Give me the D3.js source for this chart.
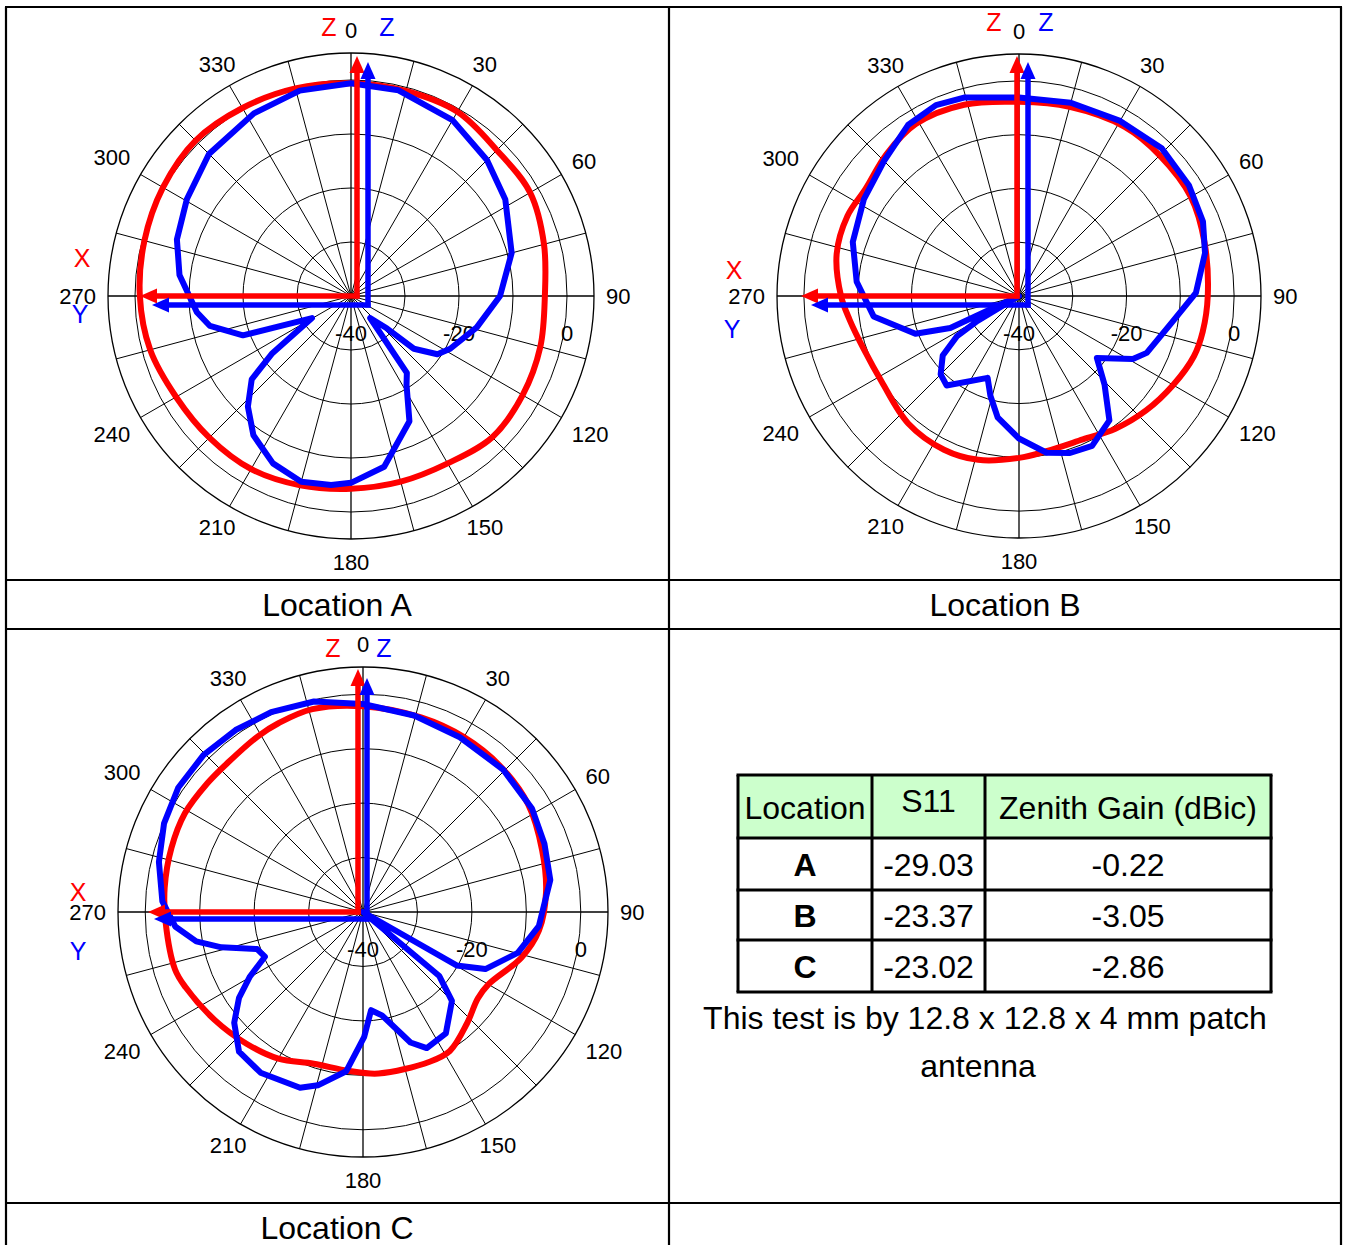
<!DOCTYPE html>
<html><head><meta charset="utf-8">
<script src="https://cdn.jsdelivr.net/npm/d3@7"></script>
<style>
body{margin:0;background:#fff}
svg{display:block}
text{font-family:"Liberation Sans",Arial,sans-serif}
</style>
</head><body>
<svg id="c" width="1346" height="1245"></svg>
<script>
// ---------------- DATA ----------------
const angleTicks = [0,30,60,90,120,150,180,210,240,270,300,330];
const ringLevels = [-30,-20,-10,0,5];
const radialLabels = [-40,-20,0];
const dbDomain = [-40,5];

// Location A
const angA_red = [0,15,30,45,60,75,90,105,120,135,150,165,180,195,210,225,240,255,270,285,300,315,330,345];
const dbA_red  = [-0.6,-0.7,-0.6,-1.8,-1.7,-3.0,-4.1,-3.7,-3.3,-3.0,-4.2,-4.4,-4.3,-3.7,-3.0,-2.9,-2.6,-1.5,-0.9,-0.4,0.2,0.7,0.2,-0.2];
const angA_blue = [0,13,30,45,58,75,90,104,118,124,130,132,139,144,148,155,169,180,186,195,205,215,223,230,234,240.5,250,258,264,277,288,300.6,315,332,346];
const dbA_blue  = [-0.6,-0.9,-2.4,-4.4,-6.3,-9.2,-12.4,-16,-19.2,-20.7,-24.8,-31,-34.6,-22.4,-20.6,-14.4,-7.8,-5.4,-4.8,-4.4,-5.8,-8.5,-12,-16,-22,-31.7,-18.7,-13.3,-11.3,-8,-6.1,-4.7,-2.8,-1.7,-0.8];

// Location B
const angB_red = [0,15,32,45,60,74,90,101,109,120,132,144,156,170,180,194,206,221,238,251,262,270,283,295,305,317,329,344];
const dbB_red  = [-3.9,-3.6,-2.9,-3.0,-3.1,-4.1,-4.9,-5.2,-5.6,-6.9,-8.2,-9.5,-10.8,-10.7,-9.9,-8.6,-8.2,-8.6,-9.9,-9.5,-8.2,-6.9,-5.2,-4.8,-5.2,-3.9,-2.7,-3.0];
const angB_blue = [0,15,30,44,57,68,77,89,100,114,119,128.5,136,144,154,162,170,180,190,196,201,219,225,232,237,239,242,245,250,262,275,288,302,315,327,336.5,344.5];
const dbB_blue  = [-3.1,-2.8,-2.4,-1.8,-2.3,-3.1,-4.5,-7.1,-11.2,-14,-15.8,-21.5,-17.1,-11.4,-9.0,-9.3,-10.4,-13.5,-17.1,-20.7,-23.7,-18.6,-19.4,-22,-26.2,-31,-40,-25.9,-19.5,-12.7,-9.7,-7.5,-6,-4.5,-2.1,-1.3,-1.7];

// Location C
const angC_red = [0,16.6,30,43,57,71,84,96,106,120,127,137,148,156,174.5,185,198,210,221.5,234,247,253,267,277,288.5,299,309.5,318,329,336,346];
const dbC_red  = [-2.2,-2.7,-2.9,-3.2,-3.8,-5.2,-6.2,-7.5,-9.7,-13.4,-13.6,-12,-9.9,-9.9,-10.2,-10.7,-10.7,-8.9,-7.7,-6.3,-4.6,-3.9,-3.7,-3.3,-2.9,-2.6,-2.9,-3.0,-2.4,-2.0,-1.6];
const angC_blue = [0,14.6,29,44.5,58.5,69.4,80.3,94.6,104.8,115,119.7,124,130,135,145.7,154.9,160,169.6,175.3,179.5,186,194.6,199.7,212.5,221.6,229.3,235.3,240.3,245.5,250.7,256,260,265.6,273,283.8,294,304,314.5,325,335.3,346.9];
const dbC_blue  = [-1.8,-2.7,-3.3,-3.3,-3.6,-4.4,-5.1,-7.6,-10.6,-15.2,-20.2,-40,-21.7,-16.9,-13,-12.4,-14.5,-20.7,-21.9,-17,-10.6,-7.1,-5.7,-5.0,-5.7,-8.8,-12.3,-16.1,-20.2,-19.4,-13.2,-8.9,-5.4,-3.1,-1.4,0,0.9,1.1,0.8,0.4,-0.3];

// Table
const tableHeader = ["Location","S11","Zenith Gain (dBic)"];
const locations = ["A","B","C"];
const s11Values = ["-29.03","-23.37","-23.02"];
const zenithGain = ["-0.22","-3.05","-2.86"];
const captions = ["Location A","Location B","Location C"];
const noteLines = ["This test is by 12.8 x 12.8 x 4 mm patch","antenna"];

// ---------------- DRAW ----------------
const svg = d3.select("#c");
svg.append("rect").attr("width",1346).attr("height",1245).attr("fill","#fff");

const RED="#ff0000", BLUE="#0000ff";
const rad = d => d*Math.PI/180;
const FS = 32;

function arrow(g, x1,y1,x2,y2,color){
  const ang = Math.atan2(y2-y1,x2-x1);
  const hl=17, hw=7.5;
  const bx = x2 - hl*Math.cos(ang), by = y2 - hl*Math.sin(ang);
  g.append("line").attr("x1",x1).attr("y1",y1).attr("x2",bx).attr("y2",by)
    .attr("stroke",color).attr("stroke-width",5.5);
  const px = -Math.sin(ang), py = Math.cos(ang);
  g.append("path").attr("d",`M${x2},${y2}L${bx+px*hw},${by+py*hw}L${bx-px*hw},${by-py*hw}Z`)
    .attr("fill",color);
}

function polar(cfg){
  const g = svg.append("g").attr("transform",`translate(${cfg.cx},${cfg.cy})`);
  const r = d3.scaleLinear().domain(dbDomain).range([0,cfg.R]);
  const R = r(dbDomain[1]);
  // rings
  g.selectAll("circle.ring").data(ringLevels).join("circle")
    .attr("r",d=>r(d)).attr("fill","none").attr("stroke","#000")
    .attr("stroke-width",d=>d===dbDomain[1]?1.3:1);
  // spokes
  g.selectAll("line.spoke").data(d3.range(0,360,15)).join("line")
    .attr("x1",0).attr("y1",0)
    .attr("x2",d=>R*Math.sin(rad(d))).attr("y2",d=>-R*Math.cos(rad(d)))
    .attr("stroke","#000").attr("stroke-width",d=>d%90===0?1.3:1);
  g.append("circle").attr("r",3.5).attr("fill","#000");
  // angle labels
  g.selectAll("text.ang").data(angleTicks).join("text")
    .attr("font-size",22).attr("text-anchor","middle").attr("dominant-baseline","central")
    .each(function(d){
      const s=Math.sin(rad(d)), c=Math.cos(rad(d));
      const hw = String(d).length*6.1, hh=11;
      const e = Math.min(Math.abs(s)>1e-6?hw/Math.abs(s):1e9, Math.abs(c)>1e-6?hh/Math.abs(c):1e9);
      const rr = R+12+e;
      d3.select(this).attr("x",rr*s).attr("y",-rr*c);
    }).text(d=>d);
  // radial labels
  g.selectAll("text.rad").data(radialLabels).join("text")
    .attr("font-size",22).attr("text-anchor","middle").attr("dominant-baseline","central")
    .attr("x",d=>r(d)).attr("y",37).text(d=>d);
  // patterns
  const smooth = d3.lineRadial().angle(d=>rad(d[0])).radius(d=>r(d[1])).curve(d3.curveCatmullRomClosed.alpha(0.5));
  const line = d3.lineRadial().angle(d=>rad(d[0])).radius(d=>r(d[1])).curve(d3.curveLinearClosed);
  const red = cfg.redA.map((a,i)=>[a,cfg.redV[i]]);
  const blue = cfg.blueA.map((a,i)=>[a,cfg.blueV[i]]);
  g.append("path").attr("d",smooth(red)).attr("fill","none").attr("stroke",RED)
    .attr("stroke-width",6).attr("stroke-linejoin","round");
  g.append("path").attr("d",line(blue)).attr("fill","none").attr("stroke",BLUE)
    .attr("stroke-width",6).attr("stroke-linejoin","round");
  // axis arrows
  const a = cfg.arrows;
  arrow(g, a.rx, 2.5, a.rx, -a.rUp, RED);
  arrow(g, a.rx+2.5, 0, -a.rLeft, 0, RED);
  arrow(g, a.bx, a.by+2.5, a.bx, -a.bUp, BLUE);
  arrow(g, a.bx+2.5, a.by, -a.bLeft, a.by, BLUE);
  // axis letters
  const L = cfg.letters;
  const t = (x,y,s,col)=>g.append("text").attr("x",x).attr("y",y).attr("font-size",25)
      .attr("text-anchor","middle").attr("dominant-baseline","central").attr("fill",col).text(s);
  t(L.zr[0],L.zr[1],"Z",RED);
  t(L.zb[0],L.zb[1],"Z",BLUE);
  t(L.x[0],L.x[1],"X",RED);
  t(L.y[0],L.y[1],"Y",BLUE);
}

polar({cx:351,cy:296,R:243,redA:angA_red,redV:dbA_red,blueA:angA_blue,blueV:dbA_blue,
  arrows:{rx:6,rUp:240,rLeft:211,bx:17,by:9,bUp:234,bLeft:199},
  letters:{zr:[-22,-269],zb:[36,-269],x:[-269,-38],y:[-271,18]}});
polar({cx:1019,cy:296,R:242,redA:angB_red,redV:dbB_red,blueA:angB_blue,blueV:dbB_blue,
  arrows:{rx:-2,rUp:240,rLeft:218,bx:9,by:9,bUp:234,bLeft:208},
  letters:{zr:[-25,-274],zb:[27,-274],x:[-285,-26],y:[-287,33]}});
polar({cx:363,cy:912,R:245,redA:angC_red,redV:dbC_red,blueA:angC_blue,blueV:dbC_blue,
  arrows:{rx:-5,rUp:243,rLeft:215,bx:4,by:7,bUp:234,bLeft:209},
  letters:{zr:[-30,-264],zb:[21,-264],x:[-285,-20],y:[-285,39]}});

// layout grid
const grid = svg.append("g").attr("stroke","#000").attr("stroke-width",2.2);
[[6,7,6,1245],[669,7,669,1245],[1341,7,1341,1245],
 [5,7,1342,7],[6,580,1341,580],[6,629,1341,629],[6,1203,1341,1203]]
 .forEach(l=>grid.append("line").attr("x1",l[0]).attr("y1",l[1]).attr("x2",l[2]).attr("y2",l[3]));

// captions
const capPos = [[337,605],[1005,605],[337,1228]];
captions.forEach((c,i)=>svg.append("text").attr("x",capPos[i][0]).attr("y",capPos[i][1])
  .attr("text-anchor","middle").attr("dominant-baseline","central").attr("font-size",FS).text(c));

// table
const colX = [738,872,985,1271];
const rowY = [775,838,890,940,992];
const tg = svg.append("g");
tg.append("rect").attr("x",colX[0]).attr("y",rowY[0]).attr("width",colX[3]-colX[0]).attr("height",rowY[1]-rowY[0])
  .attr("fill","#ccffcc");
const tl = tg.append("g").attr("stroke","#000").attr("stroke-width",3);
rowY.forEach(y=>tl.append("line").attr("x1",colX[0]-1.5).attr("x2",colX[3]+1.5).attr("y1",y).attr("y2",y));
colX.forEach(x=>tl.append("line").attr("x1",x).attr("x2",x).attr("y1",rowY[0]).attr("y2",rowY[4]));
const cellX = i=>(colX[i]+colX[i+1])/2;
const hdrY = [808,801,808];
tableHeader.forEach((h,i)=>tg.append("text").attr("x",cellX(i)).attr("y",hdrY[i])
  .attr("text-anchor","middle").attr("dominant-baseline","central").attr("font-size",FS).text(h));
locations.forEach((loc,j)=>{
  const y=(rowY[j+1]+rowY[j+2])/2+1;
  tg.append("text").attr("x",cellX(0)).attr("y",y).attr("text-anchor","middle").attr("dominant-baseline","central")
    .attr("font-size",FS).attr("font-weight","bold").text(loc);
  tg.append("text").attr("x",cellX(1)).attr("y",y).attr("text-anchor","middle").attr("dominant-baseline","central")
    .attr("font-size",FS).text(s11Values[j]);
  tg.append("text").attr("x",cellX(2)).attr("y",y).attr("text-anchor","middle").attr("dominant-baseline","central")
    .attr("font-size",FS).text(zenithGain[j]);
});
noteLines.forEach((t,i)=>svg.append("text").attr("x",i===0?985:978).attr("y",1018+i*48)
  .attr("text-anchor","middle").attr("dominant-baseline","central").attr("font-size",FS).text(t));
</script>
</body></html>
